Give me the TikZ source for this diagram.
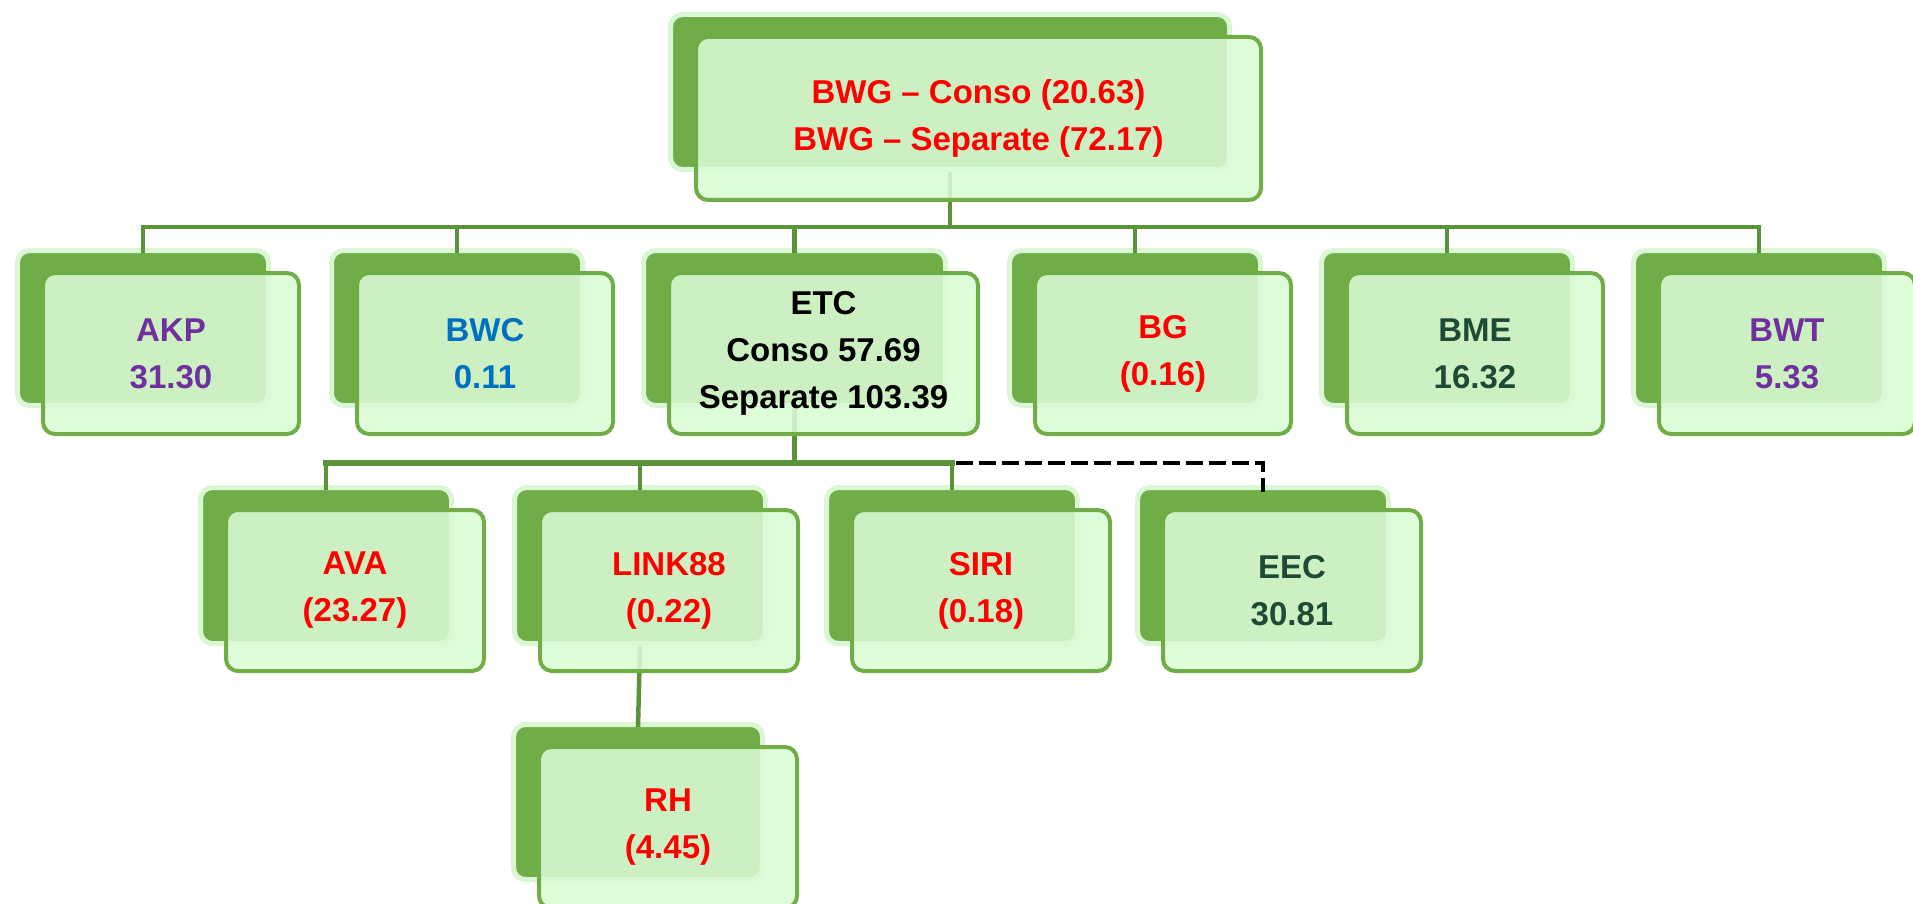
\documentclass[tikz,border=0pt]{standalone}
\usepackage{fontspec}
\setmainfont{Liberation Sans}
\definecolor{darkg}{HTML}{70AD47}
\definecolor{glow}{HTML}{DAF6D5}
\definecolor{frontg}{HTML}{DAFAD5}
\definecolor{lineg}{HTML}{5B9438}
\definecolor{tred}{HTML}{FF0000}
\definecolor{tpurple}{HTML}{7030A0}
\definecolor{tblue}{HTML}{0070C0}
\definecolor{tdgreen}{HTML}{1E4B35}
\tikzset{
 backbox/.style={rectangle, rounded corners=12pt, fill=darkg, draw=glow, line width=5pt, anchor=north west, inner sep=0pt},
 frontbox/.style={rectangle, rounded corners=12pt, fill=frontg, fill opacity=0.88, text opacity=1, draw=darkg, line width=4pt, anchor=north west, align=center, font=\fontsize{33}{47}\selectfont\bfseries, inner sep=0pt},
 conn/.style={draw=lineg, line width=4.5pt},
 dashconn/.style={draw=black, line width=4.5pt, dash pattern=on 17pt off 6pt},
}
\newcommand\mkback[5]{\node[backbox, minimum width=#4pt, minimum height=#5pt] (b-#1) at (#2,#3) {};}
\newcommand\mkfront[5]{\node[frontbox, minimum width=#2pt, minimum height=#3pt, text=#4] (#1) at ([xshift=26pt,yshift=-23pt]b-#1.north west) {#5};}
\begin{document}
\begin{tikzpicture}[x=1pt,y=-1pt]
\useasboundingbox (0,0) rectangle (1913,904);
% back plates
\mkback{top}{668}{12}{559}{155}
\mkback{akp}{15}{248}{251}{155}
\mkback{bwc}{329}{248}{251}{155}
\mkback{etc}{641}{248}{302}{155}
\mkback{bg}{1007}{248}{251}{155}
\mkback{bme}{1319}{248}{251}{155}
\mkback{bwt}{1631}{248}{251}{155}
\mkback{ava}{198}{485}{251}{156}
\mkback{link}{512}{485}{251}{156}
\mkback{siri}{824}{485}{251}{156}
\mkback{eec}{1135}{485}{251}{156}
\mkback{rh}{511}{722}{249}{155}
% connectors
\draw[conn] (b-top.south) -- ++(0,55) coordinate (j1);
\draw[conn, line cap=rect] (b-akp.north |- j1) -- (b-bwt.north |- j1);
\foreach \n in {akp,bwc,etc,bg,bme,bwt} \draw[conn] (b-\n.north |- j1) -- ([yshift=-5pt]b-\n.north);
\draw[conn] (b-etc.south) -- ++(0,55) coordinate (j2);
\draw[dashconn] (j2) -| ([yshift=-7pt]b-eec.north);
\draw[conn, line width=5.5pt, line cap=rect] (b-ava.north |- j2) -- (b-siri.north |- j2);
\foreach \n in {ava,link,siri} \draw[conn] (b-\n.north |- j2) -- ([yshift=-5pt]b-\n.north);
\draw[conn] (b-link.south) -- ([yshift=-5pt]b-rh.north);
% front plates
\mkfront{top}{565}{163}{tred}{BWG – Conso (20.63)\\BWG – Separate (72.17)}
\mkfront{akp}{256}{161}{tpurple}{AKP\\31.30}
\mkfront{bwc}{256}{161}{tblue}{BWC\\0.11}
\mkfront{etc}{309}{161}{black}{ETC\\Conso 57.69\\Separate 103.39}
\mkfront{bg}{256}{161}{tred}{BG\\(0.16)}
\mkfront{bme}{256}{161}{tdgreen}{BME\\16.32}
\mkfront{bwt}{256}{161}{tpurple}{BWT\\5.33}
\mkfront{ava}{258}{161}{tred}{AVA\\(23.27)}
\mkfront{link}{258}{161}{tred}{LINK88\\(0.22)}
\mkfront{siri}{258}{161}{tred}{SIRI\\(0.18)}
\mkfront{eec}{258}{161}{tdgreen}{EEC\\30.81}
\mkfront{rh}{258}{161}{tred}{RH\\(4.45)}
\end{tikzpicture}
\end{document}
